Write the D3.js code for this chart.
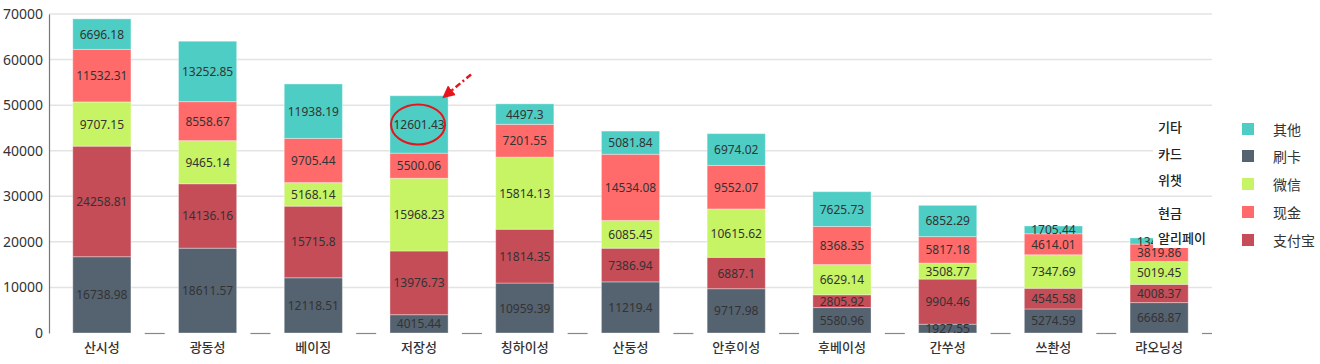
<!DOCTYPE html>
<html>
<head>
<meta charset="utf-8">
<script src="https://cdn.jsdelivr.net/npm/d3@7"></script>
<style>
  body { margin: 0; background: #fff; }
  svg { display: block; }
</style>
</head>
<body>
<svg id="chart" width="1320" height="364"></svg>
<script>
// data
const provinces = ["산시성", "광동성", "베이징", "저장성", "칭하이성", "산둥성", "안후이성", "후베이성", "간쑤성", "쓰촨성", "랴오닝성"]
const seriesNames = ["刷卡", "支付宝", "微信", "现金", "其他"]
const card   = [16738.98, 18611.57, 12118.51, 4015.44, 10959.39, 11219.4, 9717.98, 5580.96, 1927.55, 5274.59, 6668.87]
const alipay = [24258.81, 14136.16, 15715.8, 13976.73, 11814.35, 7386.94, 6887.1, 2805.92, 9904.46, 4545.58, 4008.37]
const wechat = [9707.15, 9465.14, 5168.14, 15968.23, 15814.13, 6085.45, 10615.62, 6629.14, 3508.77, 7347.69, 5019.45]
const cash   = [11532.31, 8558.67, 9705.44, 5500.06, 7201.55, 14534.08, 9552.07, 8368.35, 5817.18, 4614.01, 3819.86]
const other  = [6696.18, 13252.85, 11938.19, 12601.43, 4497.3, 5081.84, 6974.02, 7625.73, 6852.29, 1705.44, 1342.56]
const yTicks = [0, 10000, 20000, 30000, 40000, 50000, 60000, 70000]
const legendOrder = ["其他", "刷卡", "微信", "现金", "支付宝"]
const koLabels = ["기타", "카드", "위챗", "현금", "알리페이"]

const colors = {
  "刷卡": "#556270",
  "支付宝": "#C44D58",
  "微信": "#C7F464",
  "现金": "#FF6B6B",
  "其他": "#4ECDC4"
}

const svg = d3.select("#chart")

// build rows for the stack
const valuesBySeries = [card, alipay, wechat, cash, other]
const rows = provinces.map((p, i) => {
  const r = { province: p }
  seriesNames.forEach((s, j) => { r[s] = valuesBySeries[j][i] })
  return r
})
const stacked = d3.stack().keys(seriesNames)(rows)

const plot = { left: 49, right: 1212, top: 14, bottom: 333 }

const x = d3.scaleBand()
  .domain(provinces)
  .range([plot.left, plot.right])
  .paddingInner(0.45)
  .paddingOuter(0.225)

const y = d3.scaleLinear()
  .domain([0, 70000])
  .range([plot.bottom, plot.top])

// grid lines
svg.append("g")
  .selectAll("line")
  .data(yTicks.slice(1))
  .enter()
  .append("line")
    .attr("x1", plot.left)
    .attr("x2", plot.right)
    .attr("y1", d => y(d))
    .attr("y2", d => y(d))
    .attr("stroke", "#e3e3e3")
    .attr("stroke-width", 1.5)

// y axis
const yAxis = svg.append("g")
  .attr("transform", "translate(" + plot.left + ",0)")
  .call(d3.axisLeft(y).tickValues(yTicks).tickSize(0).tickPadding(6).tickFormat(d3.format("d")))
yAxis.select(".domain").attr("stroke", "#777").attr("stroke-width", 1.2)
yAxis.selectAll("text")
  .attr("fill", "#333")
  .style("font-family", "'Noto Sans', sans-serif")
  .style("font-size", "14px")

// short x axis pieces between bands
const step = x.step()
const edges = provinces.map((p, i) => x(p) + x.bandwidth() + (step - x.bandwidth()) / 2)
svg.append("g")
  .selectAll("line")
  .data(edges)
  .enter()
  .append("line")
    .attr("x1", d => d - 10)
    .attr("x2", d => Math.min(d + 10, plot.right))
    .attr("y1", plot.bottom + 0.5)
    .attr("y2", plot.bottom + 0.5)
    .attr("stroke", "#888")
    .attr("stroke-width", 1.2)

// x labels
svg.append("g")
  .selectAll("text")
  .data(provinces)
  .enter()
  .append("text")
    .attr("x", d => x(d) + x.bandwidth() / 2)
    .attr("y", 346)
    .attr("text-anchor", "middle")
    .attr("dominant-baseline", "central")
    .attr("fill", "#333")
    .style("font-family", "'Noto Sans CJK KR', sans-serif")
    .style("font-size", "13px")
    .style("font-weight", "500")
    .text(d => d)

// bars
const layers = svg.append("g")
  .selectAll("g")
  .data(stacked)
  .enter()
  .append("g")
    .attr("fill", d => colors[d.key])

layers.selectAll("rect")
  .data(d => d)
  .enter()
  .append("rect")
    .attr("x", d => x(d.data.province))
    .attr("width", x.bandwidth())
    .attr("y", d => y(d[1]))
    .attr("height", d => y(d[0]) - y(d[1]))
    .attr("stroke", "rgba(255,255,255,0.35)")
    .attr("stroke-width", 1)

// value labels
stacked.forEach(layer => {
  svg.append("g")
    .selectAll("text")
    .data(layer)
    .enter()
    .append("text")
      .attr("x", d => x(d.data.province) + x.bandwidth() / 2)
      .attr("y", d => (y(d[0]) + y(d[1])) / 2)
      .attr("text-anchor", "middle")
      .attr("dominant-baseline", "central")
      .attr("fill", "#333")
      .style("font-family", "'Noto Sans', sans-serif")
      .style("font-size", "12px")
      .text(d => d.data[layer.key])
})

// korean overlay labels with white boxes
const koY = [126, 153, 179, 212, 237]
const ko = svg.append("g")
koLabels.forEach((t, i) => {
  ko.append("rect")
    .attr("x", 1153)
    .attr("y", koY[i] - 11)
    .attr("width", 60)
    .attr("height", 22)
    .attr("fill", "#fff")
  ko.append("text")
    .attr("x", 1158)
    .attr("y", koY[i])
    .attr("dominant-baseline", "central")
    .attr("fill", "#222")
    .style("font-family", "'Noto Sans CJK KR', sans-serif")
    .style("font-size", "13px")
    .style("font-weight", "500")
    .text(t)
})

// legend
const legY = [129, 156, 184, 212, 240]
const legend = svg.append("g")
legendOrder.forEach((s, i) => {
  legend.append("rect")
    .attr("x", 1242)
    .attr("y", legY[i] - 6)
    .attr("width", 12)
    .attr("height", 12)
    .attr("fill", colors[s])
  legend.append("text")
    .attr("x", 1273)
    .attr("y", legY[i])
    .attr("dominant-baseline", "central")
    .attr("fill", "#333")
    .style("font-family", "'Noto Sans CJK SC', sans-serif")
    .style("font-size", "14px")
    .text(s)
})

// annotation on 저장성 "其他"
const target = stacked[4][3]
const cx = x(target.data.province) + x.bandwidth() / 2
const cy = (y(target[0]) + y(target[1])) / 2
svg.append("ellipse")
  .attr("cx", cx - 1)
  .attr("cy", cy)
  .attr("rx", 27)
  .attr("ry", 20)
  .attr("fill", "none")
  .attr("stroke", "#e8141c")
  .attr("stroke-width", 2)

svg.append("defs").append("marker")
  .attr("id", "head")
  .attr("viewBox", "0 0 10 10")
  .attr("refX", 4)
  .attr("refY", 5)
  .attr("markerWidth", 5)
  .attr("markerHeight", 5)
  .attr("orient", "auto")
  .append("path")
    .attr("d", "M0,0L10,5L0,10z")
    .attr("fill", "#e8141c")

svg.append("line")
  .attr("x1", cx + 52)
  .attr("y1", cy - 50)
  .attr("x2", cx + 29)
  .attr("y2", cy - 31)
  .attr("stroke", "#e8141c")
  .attr("stroke-width", 2.5)
  .attr("stroke-dasharray", "6,3,2,3")
  .attr("marker-end", "url(#head)")
</script>
</body>
</html>
